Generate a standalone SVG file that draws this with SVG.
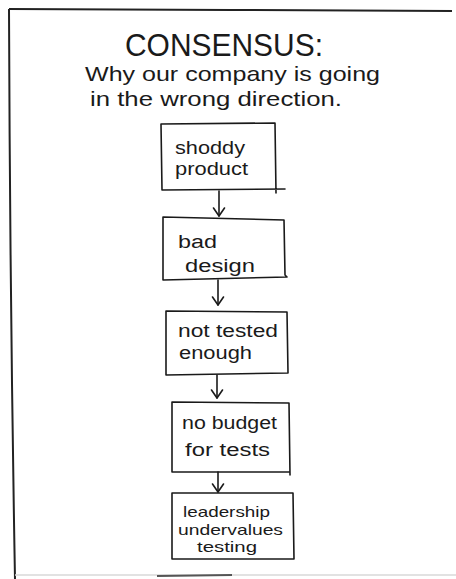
<svg xmlns="http://www.w3.org/2000/svg" width="456" height="579" viewBox="0 0 456 579">
<style>
.ln{fill:none;stroke:#1a1a1a;stroke-width:1.6;stroke-linecap:round;stroke-linejoin:round}
.frame{fill:none;stroke:#222;stroke-width:2}
.t{font-family:"Liberation Sans",Arial,sans-serif;fill:#1a1a1a}
.title{font-size:31px}
.sub{font-size:21px}
.bx{font-size:18px}
.bs{font-size:14.5px}
</style>
<defs>
<marker id="ah" markerWidth="14" markerHeight="14" refX="10" refY="7" orient="auto" markerUnits="userSpaceOnUse">
<path d="M2,1.5 L10,7 L2,12.5" fill="none" stroke="#1a1a1a" stroke-width="1.6" stroke-linecap="round" stroke-linejoin="round"/>
</marker>
</defs>
<rect width="456" height="579" fill="#fff"/>
<g id="frame">
<path class="frame" d="M9,9 L230,10 L452,11"/>
<path class="frame" d="M9,9 Q10,300 15,579"/>
<path d="M15,575 L456,575" stroke="#d8d8d8" stroke-width="1.5" fill="none"/>
<path d="M157,576 L232,575" stroke="#555" stroke-width="2" fill="none"/>
</g>
<g id="title">
<text class="t title" x="125" y="56" textLength="198" lengthAdjust="spacingAndGlyphs">CONSENSUS:</text>
<text class="t sub" x="85" y="81" textLength="295" lengthAdjust="spacingAndGlyphs">Why our company is going</text>
<text class="t sub" x="90" y="106" textLength="252" lengthAdjust="spacingAndGlyphs">in the wrong direction.</text>
</g>
<g id="connectors">
<path class="ln" d="M219,191 L219,216" marker-end="url(#ah)"/>
<path class="ln" d="M218,280 L218,305" marker-end="url(#ah)"/>
<path class="ln" d="M217,375 L217,398" marker-end="url(#ah)"/>
<path class="ln" d="M218,472 L218,492" marker-end="url(#ah)"/>
</g>
<g id="node-shoddy-product">
<path class="ln" d="M161,124 L275,123 L276,193 M285,189 L162,190 L161,124"/>
<text class="t bx" x="175" y="154" textLength="70" lengthAdjust="spacingAndGlyphs">shoddy</text>
<text class="t bx" x="175" y="175" textLength="73" lengthAdjust="spacingAndGlyphs">product</text>
</g>
<g id="node-bad-design">
<path class="ln" d="M163,217 L284,220 L285,275 L287,277 L163,280 Z"/>
<text class="t bx" x="178" y="248" textLength="39" lengthAdjust="spacingAndGlyphs">bad</text>
<text class="t bx" x="185" y="272" textLength="70" lengthAdjust="spacingAndGlyphs">design</text>
</g>
<g id="node-not-tested-enough">
<path class="ln" d="M166,311 L287,312 L288,373 L166,375 Z"/>
<text class="t bx" x="178" y="337" textLength="100" lengthAdjust="spacingAndGlyphs">not tested</text>
<text class="t bx" x="179" y="359" textLength="73" lengthAdjust="spacingAndGlyphs">enough</text>
</g>
<g id="node-no-budget">
<path class="ln" d="M172,402 L289,403 L290,475 M290,472 L172,472 L172,402"/>
<text class="t bx" x="182" y="429" textLength="95" lengthAdjust="spacingAndGlyphs">no budget</text>
<text class="t bx" x="185" y="456" textLength="85" lengthAdjust="spacingAndGlyphs">for tests</text>
</g>
<g id="node-leadership">
<path class="ln" d="M172,493 L293,493 L294,559 L172,559 Z"/>
<text class="t bs" x="183" y="517" textLength="87" lengthAdjust="spacingAndGlyphs">leadership</text>
<text class="t bs" x="178" y="535" textLength="105" lengthAdjust="spacingAndGlyphs">undervalues</text>
<text class="t bs" x="197" y="552" textLength="60" lengthAdjust="spacingAndGlyphs">testing</text>
</g>
</svg>
